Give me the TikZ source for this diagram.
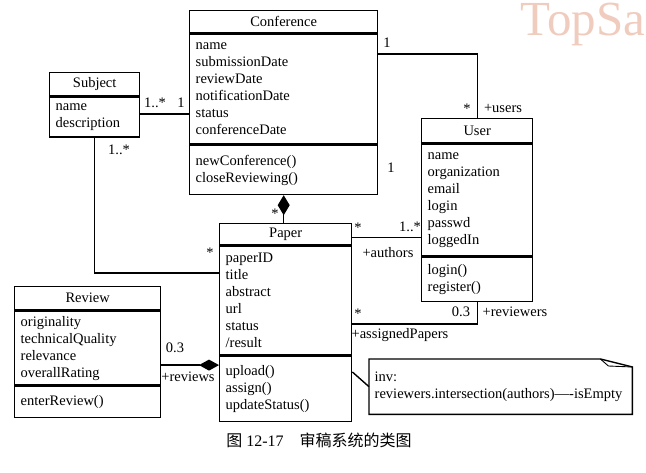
\documentclass[tikz,border=0pt]{standalone}
\usepackage{fontspec}
\setmainfont{Liberation Serif}
\newfontfamily\cjk{Noto Sans CJK SC}
\usepackage{tikz}
\usetikzlibrary{calc,positioning,arrows.meta}

\begin{document}
\begin{tikzpicture}[x=1pt, y=-1pt, line width=1.4pt,
    font=\fontsize{14.5}{17}\selectfont,
    ctitle/.style={draw, anchor=north west, inner sep=0pt, align=center},
    cpart/.style={draw, anchor=north west, inner xsep=6pt, inner ysep=0pt, align=left},
    mult/.style={inner sep=1pt}]
    \useasboundingbox (0,0) rectangle (646,473);

    % Watermark
    \node[anchor=base west, inner sep=0pt, text={rgb,255:red,240;green,204;blue,190},
          font=\fontsize{49}{49}\selectfont] (mark) at (520,36) {TopSa};

    % Conference class
    \node[ctitle, minimum width=188, minimum height=22] (confT) at (189,10) {Conference};
    \node[cpart, minimum width=188, minimum height=110, text width=176] (confA) at (confT.south west)
        {name\\submissionDate\\reviewDate\\notificationDate\\status\\conferenceDate};
    \node[cpart, minimum width=188, minimum height=49, text width=176] (confM) at (confA.south west)
        {newConference()\\closeReviewing()};

    % Subject class
    \node[ctitle, minimum width=90, minimum height=23] (subT) at (49,72) {Subject};
    \node[cpart, minimum width=90, minimum height=40, text width=78] (subA) at (subT.south west)
        {name\\description};

    % User class
    \node[ctitle, minimum width=111, minimum height=24] (userT) at (421,118) {User};
    \node[cpart, minimum width=111, minimum height=112, text width=99] (userA) at (userT.south west)
        {name\\organization\\email\\login\\passwd\\loggedIn};
    \node[cpart, minimum width=111, minimum height=44, text width=99] (userM) at (userA.south west)
        {login()\\register()};

    % Paper class
    \node[ctitle, minimum width=132, minimum height=21] (paperT) at (219,223) {Paper};
    \node[cpart, minimum width=132, minimum height=109, text width=120] (paperA) at (paperT.south west)
        {paperID\\title\\abstract\\url\\status\\/result};
    \node[cpart, minimum width=132, minimum height=65, text width=120] (paperM) at (paperA.south west)
        {upload()\\assign()\\updateStatus()};

    % Review class
    \node[ctitle, minimum width=146, minimum height=23] (revT) at (14,286) {Review};
    \node[cpart, minimum width=146, minimum height=74, text width=134] (revA) at (revT.south west)
        {originality\\technicalQuality\\relevance\\overallRating};
    \node[cpart, minimum width=146, minimum height=31, text width=134] (revM) at (revA.south west)
        {enterReview()};

    % Note with folded corner
    \node[anchor=north west, minimum width=262, minimum height=54, text width=252,
          inner xsep=5pt, align=left] (inv) at (369,359)
        {inv:\\reviewers.intersection(authors)—-isEmpty};
    \draw (inv.north west) -- ([xshift=-32pt]inv.north east) -- ([yshift=-8pt]inv.north east)
        -- (inv.south east) -- (inv.south west) -- cycle;
    \draw[line width=0.9pt] ([xshift=-32pt]inv.north east) -- ([xshift=-24pt,yshift=-7pt]inv.north east)
        -- ([yshift=-8pt]inv.north east);
    \draw ([yshift=17pt]paperM.east) -- (inv.west);

    % Associations
    \draw ([yshift=3pt]subA.east) -- ([yshift=3pt]subA.east -| confA.west);
    \node[mult] at (155,103) {1..*};
    \node[mult] at (181,103) {1};

    \draw (subA.south) |- ([yshift=27.5pt]paperA.west);
    \node[mult] at (119,150) {1..*};
    \node[mult] at (210,253) {*};

    \draw ([yshift=35pt]confA.east) -| (userT.north);
    \node[mult] at (387,43) {1};
    \node[mult] at (467,109) {*};
    \node[mult] at (503,108) {+users};
    \node[mult] at (391,168) {1};

    \draw ([yshift=-3.5pt]paperT.east) -- ([yshift=-3.5pt]paperT.east -| userA.west);
    \node[mult] at (358,228) {*};
    \node[mult] at (410,227) {1..*};
    \node[mult] at (388,253) {+authors};

    \draw ([yshift=-23.5pt]paperA.east) -| (userM.south);
    \node[mult] at (358,314) {*};
    \node[mult] at (461,312) {0.3};
    \node[mult] at (515,312) {+reviewers};
    \node[mult] at (400,335) {+assignedPapers};

    % Compositions
    \draw[{Diamond[length=20pt,width=12pt]}-] (confM.south) -- (confM.south |- paperT.north);
    \node[mult] at (275,214) {*};

    \draw[-{Diamond[length=20pt,width=11pt]}] ([yshift=-17pt]revA.east) -- ([yshift=-17pt]revA.east -| paperM.west);
    \node[mult] at (175,348) {0.3};
    \node[mult] at (188,377) {+reviews};

    % Caption
    \node[font=\fontsize{16}{18}\selectfont] (caption) at (319,440) {{\cjk 图} 12-17\quad{\cjk 审稿系统的类图}};
\end{tikzpicture}
\end{document}
